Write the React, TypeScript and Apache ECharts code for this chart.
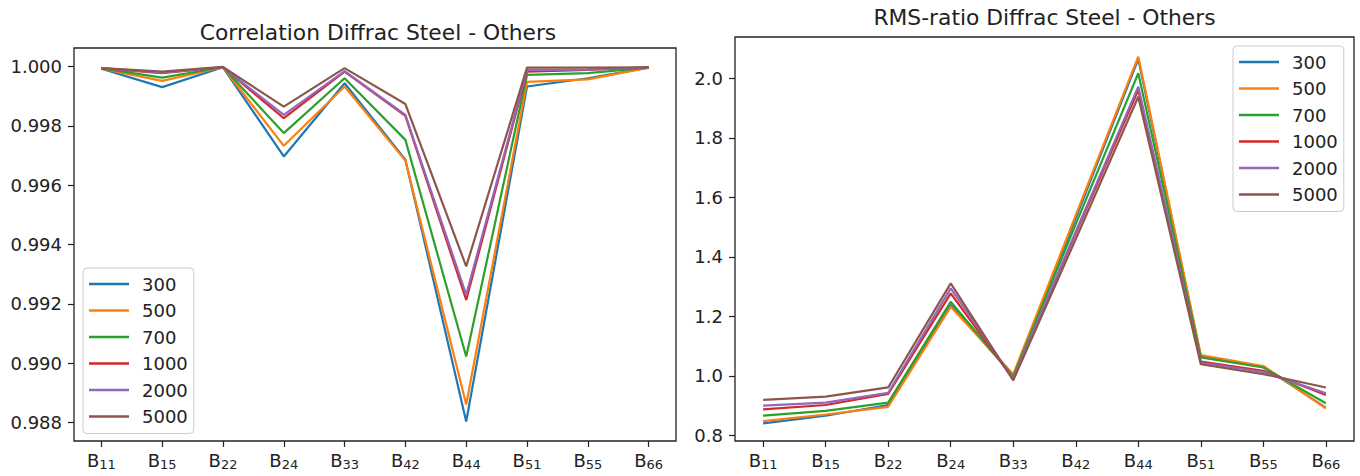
import React, { useEffect, useRef } from "react";
import * as echarts from "echarts";

const categories = ["B11", "B15", "B22", "B24", "B33", "B42", "B44", "B51", "B55", "B66"];
const seriesNames = ["300", "500", "700", "1000", "2000", "5000"];

const corr300 = [0.99993, 0.99931, 0.99998, 0.99697, 0.99944, 0.99686, 0.98803, 0.99933, 0.99961, 0.99997];
const corr500 = [0.99993, 0.99952, 0.99998, 0.99733, 0.99933, 0.99683, 0.9886, 0.99949, 0.99957, 0.99997];
const corr700 = [0.99994, 0.99963, 0.99998, 0.99776, 0.99961, 0.99753, 0.99022, 0.99972, 0.99978, 0.99997];
const corr1000 = [0.99994, 0.99978, 0.99998, 0.99826, 0.99983, 0.99834, 0.99213, 0.99983, 0.99989, 0.99998];
const corr2000 = [0.99995, 0.9998, 0.99998, 0.99837, 0.99985, 0.99837, 0.9923, 0.99989, 0.9999, 0.99998];
const corr5000 = [0.99995, 0.99983, 0.99999, 0.99865, 0.99995, 0.99874, 0.99326, 0.99997, 0.99997, 0.99998];

const rms300 = [0.84, 0.866, 0.902, 1.238, 1.0, 1.53, 2.065, 1.065, 1.03, 0.893];
const rms500 = [0.848, 0.87, 0.896, 1.232, 1.005, 1.54, 2.073, 1.07, 1.033, 0.891];
const rms700 = [0.866, 0.882, 0.91, 1.249, 0.998, 1.51, 2.017, 1.062, 1.028, 0.908];
const rms1000 = [0.887, 0.902, 0.939, 1.277, 0.99, 1.48, 1.961, 1.048, 1.017, 0.936];
const rms2000 = [0.9, 0.91, 0.943, 1.294, 0.99, 1.485, 1.972, 1.044, 1.013, 0.941];
const rms5000 = [0.919, 0.93, 0.961, 1.311, 0.985, 1.46, 1.938, 1.039, 1.006, 0.961];

const corrTicks = [0.988, 0.99, 0.992, 0.994, 0.996, 0.998, 1.0];
const rmsTicks = [0.8, 1.0, 1.2, 1.4, 1.6, 1.8, 2.0];

const corrSeries = [corr300, corr500, corr700, corr1000, corr2000, corr5000];
const rmsSeries = [rms300, rms500, rms700, rms1000, rms2000, rms5000];

const palette = ["#1f77b4", "#ff7f0e", "#2ca02c", "#d62728", "#9467bd", "#8c564b"];
const FONT = "DejaVu Sans";
const INK = "#222222";

export default function App() {
  const ref = useRef<HTMLDivElement>(null);
  useEffect(() => {
    if (!ref.current) return;
    const chart = echarts.init(ref.current, null, { renderer: "svg" });
    const xIdx = categories.map((_, i) => i);
    const xAxisBase = (gridIndex: number) => ({
      type: "value" as const,
      gridIndex,
      min: -0.45,
      max: categories.length - 1 + 0.45,
      axisLine: { show: false, onZero: false },
      splitLine: { show: false },
      axisTick: { show: true, length: 6, customValues: xIdx, lineStyle: { color: INK, width: 1.2 } },
      axisLabel: {
        customValues: xIdx,
        margin: 9,
        formatter: (v: number) => {
          const c = categories[Math.round(v)];
          if (!c) return "";
          return `{b|${c.slice(0, 1)}}{s|${c.slice(1)}}`;
        },
        rich: {
          b: { fontSize: 18, fontFamily: FONT, color: INK },
          s: { fontSize: 13, fontFamily: FONT, color: INK, padding: [8, 0, 0, 0] },
        },
      },
    });
    const yAxisBase = (gridIndex: number, min: number, max: number, ticks: number[], digits: number) => ({
      type: "value" as const,
      gridIndex,
      min,
      max,
      axisLine: { show: false, onZero: false },
      splitLine: { show: false },
      axisTick: { show: true, length: 6, customValues: ticks, lineStyle: { color: INK, width: 1.2 } },
      axisLabel: {
        customValues: ticks,
        margin: 12,
        fontSize: 18,
        fontFamily: FONT,
        color: INK,
        formatter: (v: number) => v.toFixed(digits),
      },
    });
    const legendBase = (left: number, top: number) => ({
      orient: "vertical" as const,
      left,
      top,
      data: seriesNames,
      icon: "rect",
      itemWidth: 40,
      itemHeight: 2.5,
      itemGap: 8.5,
      padding: [7, 6, 8, 6],
      backgroundColor: "rgba(255,255,255,0.8)",
      borderColor: "#cccccc",
      borderWidth: 1,
      borderRadius: 4,
      textStyle: { fontSize: 18, fontFamily: FONT, color: INK, lineHeight: 18, padding: [0, 0, 0, 8] },
    });
    const makeSeries = (arrs: number[][], gi: number) =>
      arrs.map((arr, k) => ({
        name: seriesNames[k],
        type: "line" as const,
        xAxisIndex: gi,
        yAxisIndex: gi,
        symbol: "none",
        color: palette[k],
        itemStyle: { color: palette[k] },
        lineStyle: { width: 2.2, color: palette[k] },
        data: arr.map((v, i) => [i, v]),
      }));
    chart.setOption({
      animation: false,
      textStyle: { fontFamily: FONT },
      title: [
        {
          text: "Correlation Diffrac Steel - Others",
          left: 378,
          top: 21,
          textAlign: "center",
          padding: 0,
          textStyle: { fontSize: 21.8, fontWeight: "normal", color: INK, fontFamily: FONT },
        },
        {
          text: "RMS-ratio Diffrac Steel - Others",
          left: 1044.5,
          top: 6,
          textAlign: "center",
          padding: 0,
          textStyle: { fontSize: 21.8, fontWeight: "normal", color: INK, fontFamily: FONT },
        },
      ],
      grid: [
        { left: 74, right: 1360 - 676, top: 48, bottom: 476 - 441, show: true, borderColor: INK, borderWidth: 1.3, backgroundColor: "transparent" },
        { left: 735, right: 1360 - 1354, top: 37, bottom: 476 - 441, show: true, borderColor: INK, borderWidth: 1.3, backgroundColor: "transparent" },
      ],
      legend: [legendBase(83, 268), legendBase(1233, 46)],
      xAxis: [xAxisBase(0), xAxisBase(1)],
      yAxis: [
        yAxisBase(0, 0.98737, 1.00063, corrTicks, 3),
        yAxisBase(1, 0.781, 2.139, rmsTicks, 1),
      ],
      series: [...makeSeries(corrSeries, 0), ...makeSeries(rmsSeries, 1)],
    });
    return () => chart.dispose();
  }, []);
  return <div ref={ref} style={{ position: "absolute", left: 0, top: 0, width: 1360, height: 476 }} />;
}
